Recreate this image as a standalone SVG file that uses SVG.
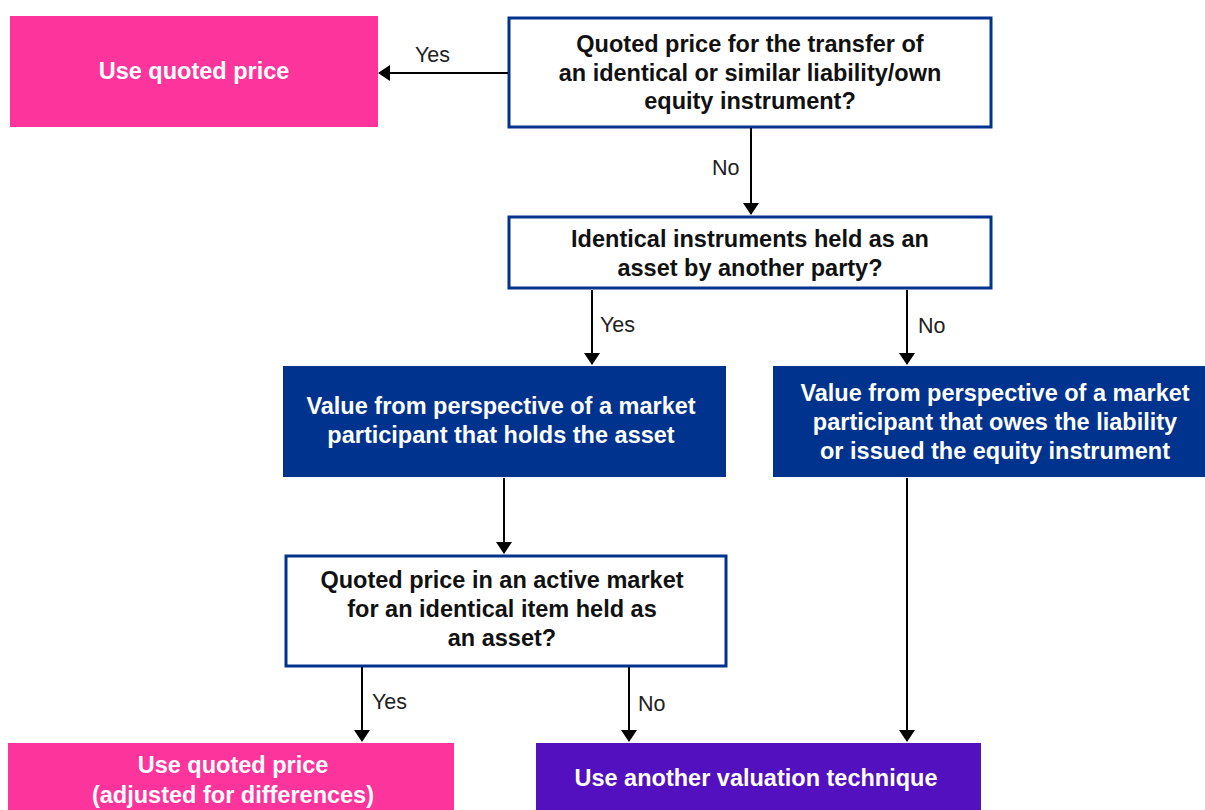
<svg xmlns="http://www.w3.org/2000/svg" width="1205" height="810" viewBox="0 0 1205 810">
<style>
.q{fill:#fff;stroke:#00338D;stroke-width:3}
.b{fill:#00338D}
.p{fill:#FD349C}
.v{fill:#5310BE}
.t{font-family:"Liberation Sans",Arial,sans-serif;font-weight:bold;font-size:23.5px;text-anchor:middle}
.dk{fill:#111}
.wt{fill:#fff}
.l{font-family:"Liberation Sans",Arial,sans-serif;font-size:21.5px;fill:#222}
.e{stroke:#000;stroke-width:2;fill:none;marker-end:url(#ah)}
</style>
<defs>
<marker id="ah" markerWidth="12" markerHeight="16" refX="11" refY="8" orient="auto" markerUnits="userSpaceOnUse">
<path d="M0,0 L12,8 L0,16 Z" fill="#000"/>
</marker>
</defs>
<rect width="1205" height="810" fill="#fff"/>
<g id="n1">
<rect class="p" x="10" y="16" width="368" height="111"/>
<text class="t wt" x="194" y="79">Use quoted price</text>
</g>
<g id="n2">
<rect class="q" x="509" y="18" width="482" height="109"/>
<text class="t dk" x="750" y="52">Quoted price for the transfer of</text>
<text class="t dk" x="750" y="81">an identical or similar liability/own</text>
<text class="t dk" x="750" y="109">equity instrument?</text>
</g>
<g id="n3">
<rect class="q" x="509" y="217" width="482" height="71"/>
<text class="t dk" x="750" y="247">Identical instruments held as an</text>
<text class="t dk" x="750" y="276">asset by another party?</text>
</g>
<g id="n4">
<rect class="b" x="283" y="366" width="443" height="111"/>
<text class="t wt" x="501" y="414">Value from perspective of a market</text>
<text class="t wt" x="501" y="443">participant that holds the asset</text>
</g>
<g id="n5">
<rect class="b" x="773" y="366" width="440" height="111"/>
<text class="t wt" x="995" y="401">Value from perspective of a market</text>
<text class="t wt" x="995" y="430">participant that owes the liability</text>
<text class="t wt" x="995" y="459">or issued the equity instrument</text>
</g>
<g id="n6">
<rect class="q" x="286" y="556" width="440" height="110"/>
<text class="t dk" x="502" y="588">Quoted price in an active market</text>
<text class="t dk" x="502" y="617">for an identical item held as</text>
<text class="t dk" x="502" y="646">an asset?</text>
</g>
<g id="n7">
<rect class="p" x="8" y="743" width="446" height="70"/>
<text class="t wt" x="233" y="773">Use quoted price</text>
<text class="t wt" x="233" y="803">(adjusted for differences)</text>
</g>
<g id="n8">
<rect class="v" x="536" y="743" width="445" height="70"/>
<text class="t wt" x="756" y="786">Use another valuation technique</text>
</g>
<g id="connectors">
<path class="e" d="M508,73 H379"/>
<text class="l" x="415" y="62">Yes</text>
<path class="e" d="M751,128 V214"/>
<text class="l" x="712" y="175">No</text>
<path class="e" d="M592,290 V364"/>
<text class="l" x="600" y="332">Yes</text>
<path class="e" d="M907,290 V364"/>
<text class="l" x="918" y="333">No</text>
<path class="e" d="M504,478 V553"/>
<path class="e" d="M362,667 V741"/>
<text class="l" x="372" y="709">Yes</text>
<path class="e" d="M629,667 V741"/>
<text class="l" x="638" y="711">No</text>
<path class="e" d="M907,478 V741"/>
</g>
</svg>
